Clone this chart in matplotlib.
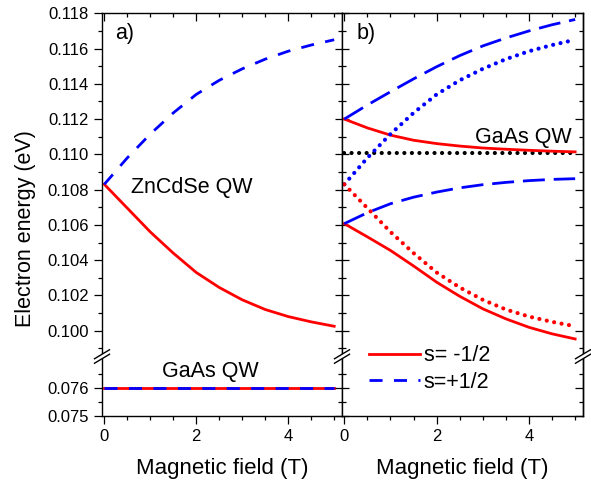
import matplotlib
matplotlib.use("Agg")
import matplotlib.pyplot as plt
from matplotlib.lines import Line2D
from matplotlib.patches import Polygon
from matplotlib.ticker import MultipleLocator, FixedLocator, FormatStrFormatter, NullFormatter

plt.rcParams["font.family"] = ["Liberation Sans", "DejaVu Sans"]

# magnetic field (T)
field = [0, 0.5, 1, 1.5, 2, 2.5, 3, 3.5, 4, 4.5, 5]

# panel a) ZnCdSe QW
zncdse_minus = [0.1083, 0.10695, 0.1056, 0.1044, 0.1033, 0.10245, 0.10175, 0.1012, 0.1008, 0.1005, 0.10025]
zncdse_plus = [0.1083, 0.1098, 0.11115, 0.11235, 0.1134, 0.1142, 0.11485, 0.1154, 0.11585, 0.1162, 0.1165]
# panel a) GaAs QW (flat)
gaas_a = [0.0760] * len(field)

# panel b) coupled levels
upper_plus = [0.1120, 0.1128, 0.11355, 0.11428, 0.11497, 0.1156, 0.11615, 0.1166, 0.1170, 0.11735, 0.11765]
upper_minus = [0.1120, 0.1115, 0.11109, 0.1108, 0.11061, 0.11047, 0.11036, 0.11029, 0.11023, 0.11018, 0.11014]
lower_plus = [0.10607, 0.10669, 0.1072, 0.10757, 0.10786, 0.1081, 0.10828, 0.10841, 0.10851, 0.10858, 0.10862]
lower_minus = [0.10607, 0.10532, 0.10455, 0.10367, 0.10275, 0.10195, 0.10124, 0.10067, 0.10019, 0.09982, 0.09953]
gaas_b = [0.1101] * len(field)

W, H = 591, 488
X_LEFT, X_MID, X_RIGHT = 102, 342, 583
Y_TOP, Y_BRK, Y_BOT = 13.3, 355, 416


def fx(px):
    return px / W


def fy(py):
    return 1 - py / H


fig = plt.figure(figsize=(W / 100, H / 100), dpi=100)

axA = fig.add_axes([fx(X_LEFT), fy(Y_BRK), fx(X_MID) - fx(X_LEFT), fy(Y_TOP) - fy(Y_BRK)])
axA2 = fig.add_axes([fx(X_LEFT), fy(Y_BOT), fx(X_MID) - fx(X_LEFT), fy(Y_BRK) - fy(Y_BOT)])
axB = fig.add_axes([fx(X_MID), fy(Y_BRK), fx(X_RIGHT) - fx(X_MID), fy(Y_TOP) - fy(Y_BRK)])
axB2 = fig.add_axes([fx(X_MID), fy(Y_BOT), fx(X_RIGHT) - fx(X_MID), fy(Y_BRK) - fy(Y_BOT)])

dash_a = (4.7, 4.1)
dash_b = (7.9, 3.2)
dot = (0.01, 1.8)
LW = 2.0
LW_DOT = 3.0

# panel a
axA.plot(field, zncdse_minus, color="red", lw=LW)
axA.plot(field, zncdse_plus, color="blue", lw=LW, dashes=dash_a)
axA2.plot(field, gaas_a, color="red", lw=LW)
axA2.plot(field, gaas_a, color="blue", lw=LW, dashes=dash_a)

# panel b
axB.plot(field, gaas_b, color="black", lw=LW_DOT, dashes=dot, dash_capstyle="round")
axB.plot(field, upper_minus, color="red", lw=LW)
axB.plot(field, upper_plus, color="blue", lw=LW, dashes=dash_b)
axB.plot(field, lower_minus, color="red", lw=LW)
axB.plot(field, lower_plus, color="blue", lw=LW, dashes=dash_b)
axB.plot(field, zncdse_plus, color="blue", lw=LW_DOT, dashes=dot, dash_capstyle="round")
axB.plot(field, zncdse_minus, color="red", lw=LW_DOT, dashes=dot, dash_capstyle="round")

for ax in (axA, axB):
    ax.set_ylim(0.09862, 0.118)
    ax.spines["bottom"].set_visible(False)
    ax.yaxis.set_major_locator(MultipleLocator(0.002))
    ax.yaxis.set_minor_locator(MultipleLocator(0.001))
    ax.tick_params(axis="x", which="both", bottom=False, top=True, labelbottom=False, direction="in")
for ax in (axA2, axB2):
    ax.set_ylim(0.075, 0.077155)
    ax.spines["top"].set_visible(False)
    ax.yaxis.set_major_locator(FixedLocator([0.075, 0.076]))
    ax.yaxis.set_minor_locator(FixedLocator([0.0755, 0.0765]))
    ax.tick_params(axis="x", which="both", bottom=True, top=False, direction="out")
    ax.set_xlabel("Magnetic field (T)", fontsize=16, labelpad=10)

for ax in (axA, axA2, axB, axB2):
    ax.set_xlim(-0.05, 5.17)
    ax.xaxis.set_major_locator(MultipleLocator(2))
    ax.xaxis.set_minor_locator(MultipleLocator(0.5))
    ax.tick_params(which="major", length=6, width=0.9, labelsize=12, pad=3.5)
    ax.tick_params(which="minor", length=3, width=0.9)
    for s in ax.spines.values():
        s.set_linewidth(1.0)
    ax.yaxis.set_major_formatter(FormatStrFormatter("%.3f"))

for ax in (axA, axA2):
    ax.tick_params(axis="y", which="both", left=True, right=False, direction="out")
for ax in (axB, axB2):
    ax.tick_params(axis="y", which="both", left=True, right=False, labelleft=False, direction="inout")
    ax.tick_params(axis="y", which="major", length=10)
    ax.tick_params(axis="y", which="minor", length=6)
    sec = ax.secondary_yaxis("right")
    sec.yaxis.set_major_locator(ax.yaxis.get_major_locator())
    sec.yaxis.set_minor_locator(ax.yaxis.get_minor_locator())
    sec.yaxis.set_major_formatter(NullFormatter())
    sec.tick_params(which="both", direction="in", width=0.9)
    sec.tick_params(which="major", length=6)
    sec.tick_params(which="minor", length=3)
    sec.spines["right"].set_linewidth(1.0)

# panel labels and annotations
fig.text(fx(115), fy(33.5), "a)", fontsize=15.5, va="center", ha="left")
fig.text(fx(357), fy(33.5), "b)", fontsize=15.5, va="center", ha="left")
fig.text(fx(131), fy(187.5), "ZnCdSe QW", fontsize=15.5, va="center", ha="left")
fig.text(fx(210), fy(372), "GaAs QW", fontsize=15.5, va="center", ha="center")
fig.text(fx(572), fy(137.5), "GaAs QW", fontsize=15.5, va="center", ha="right")
fig.text(fx(25.5), fy(229), "Electron energy (eV)", fontsize=15.5, rotation=90,
         va="center", ha="center")

# axis break marks
y0 = 356.5
for xb in (X_LEFT, X_MID, X_RIGHT):
    p1 = [(xb - 7.5, y0 - 2.25 + 4.5), (xb + 7.5, y0 - 2.25 - 4.5)]
    p2 = [(xb - 7.5, y0 + 2.25 + 4.5), (xb + 7.5, y0 + 2.25 - 4.5)]
    quad = [p1[0], p1[1], p2[1], p2[0]]
    fig.add_artist(Polygon([(fx(a), fy(b)) for a, b in quad], closed=True,
                           facecolor="white", edgecolor="none", zorder=10))
    for seg in (p1, p2):
        fig.add_artist(Line2D([fx(seg[0][0]), fx(seg[1][0])], [fy(seg[0][1]), fy(seg[1][1])],
                              color="black", lw=1.0, zorder=11))

handles = [Line2D([], [], color="red", lw=LW),
           Line2D([], [], color="blue", lw=LW, dashes=dash_a)]
fig.legend(handles, ["s= -1/2", "s=+1/2"], loc="center left",
           bbox_to_anchor=(fx(369), fy(369)), frameon=False, fontsize=15.5,
           handlelength=2.35, handletextpad=0.2, labelspacing=0.25,
           borderpad=0, borderaxespad=0)

fig.savefig("out.png", dpi=100)
